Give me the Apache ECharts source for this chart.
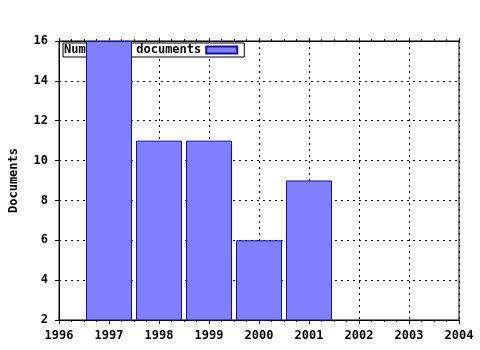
<!DOCTYPE html>
<html><head><meta charset="utf-8">
<script src="https://cdn.jsdelivr.net/npm/echarts@6/dist/echarts.min.js"></script>
<style>html,body{margin:0;padding:0;background:#fff}#c{width:480px;height:350px}</style>
</head><body><div id="c"></div>
<script>
const years = [1997, 1998, 1999, 2000, 2001];
const documents = [16, 11, 11, 6, 9];
const seriesName = 'Number of documents';
const yTitle = 'Documents';

const font = 'DejaVu Sans Mono';
const chart = echarts.init(document.getElementById('c'));
const dot = {color: '#000', type: [2, 4], width: 1};
chart.setOption({
  animation: false,
  grid: {left: 57, right: 21, top: 41, bottom: 30, show: true, borderColor: '#000', borderWidth: 1, backgroundColor: 'transparent'},
  legend: {
    data: [seriesName], left: 63, top: 43, z: 1, orient: 'horizontal', align: 'right',
    backgroundColor: '#fff', borderColor: '#000', borderWidth: 1, borderRadius: 0,
    padding: [1, 6, 1, 1], itemWidth: 31, itemHeight: 7, itemGap: 4, icon: 'rect',
    textStyle: {fontFamily: font, fontWeight: 'bold', fontSize: 12, color: '#000', padding: [0, 0, 0, 0]}
  },
  xAxis: [{
    type: 'value', min: 1996, max: 2004, interval: 1, position: 'bottom',
    axisLine: {show: true, lineStyle: {color: '#000'}},
    axisTick: {show: true, inside: false, length: 4, lineStyle: {color: '#000'}},
    minorTick: {show: true, splitNumber: 4, length: 2, lineStyle: {color: '#000'}},
    splitLine: {show: true, lineStyle: dot},
    axisLabel: {fontFamily: font, fontWeight: 'bold', fontSize: 12, color: '#000', margin: 10, formatter: v => String(v)}
  }, {
    type: 'value', min: 1996, max: 2004, interval: 1, position: 'top',
    axisLine: {show: true, lineStyle: {color: '#000'}},
    axisTick: {show: true, inside: false, length: 3, lineStyle: {color: '#000'}},
    minorTick: {show: true, splitNumber: 4, length: 2, lineStyle: {color: '#000'}},
    splitLine: {show: false}, axisLabel: {show: false}
  }],
  yAxis: {
    type: 'value', min: 2, max: 16, interval: 2,
    name: yTitle, nameLocation: 'middle', nameGap: 39, nameRotate: 90,
    nameTextStyle: {fontFamily: font, fontWeight: 'bold', fontSize: 12, color: '#000'},
    axisLine: {show: true, lineStyle: {color: '#000'}},
    axisTick: {show: true, inside: false, length: 4, lineStyle: {color: '#000'}},
    splitLine: {show: true, lineStyle: dot},
    axisLabel: {fontFamily: font, fontWeight: 'bold', fontSize: 12, color: '#000', margin: 11}
  },
  series: [{
    name: seriesName, type: 'bar', z: 5, barWidth: 46,
    data: years.map((y, i) => [y, documents[i]]),
    itemStyle: {color: '#8080ff', borderColor: '#1010a0', borderWidth: 1}
  }]
});
</script></body></html>
